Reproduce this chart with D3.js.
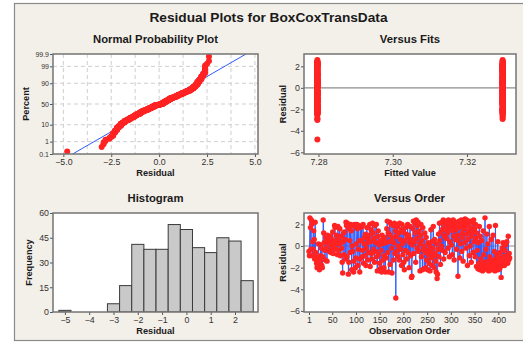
<!DOCTYPE html>
<html>
<head>
<meta charset="utf-8">
<script src="https://cdn.jsdelivr.net/npm/d3@7"></script>
<style>
  body { margin: 0; background: #fff; }
  svg text { font-family: "Liberation Sans", Arial, sans-serif; fill: #1a1a1a; }
  .tick text { font-size: 8.8px; fill: #333; }
  .tick line { stroke: #555; }
  .main-title { font-size: 13.7px; font-weight: bold; }
  .ptitle { font-size: 11.3px; font-weight: bold; }
  .alabel { font-size: 9.2px; font-weight: bold; }
</style>
</head>
<body>
<svg id="chart" width="523" height="345"></svg>
<script>
// residuals in observation order
const residuals = [
  -0.5, -0.9, 2.6, 1.7, -0.3, 2.4, 2.0, -0.9,
  0.4, -0.3, 1.4, 0.6, -1.2, 2.2, -0.6, -1.0,
  -1.6, -2.0, -1.8, -1.2, 0.2, -1.9, -2.2, -1.4, -0.9, 0.1, -0.2, -1.8, -2.0, -1.0,
  2.4, 1.2, 0.3, -0.4, -1.3, 0.8, 0.5, -0.2, -1.4, 1.0,
  0.5, 0.8, 0.2, -0.5, 0.9, 0.3, -0.6, 0.7, 0.1, -0.2, 1.3, -0.7, 0.4, 0.0, 1.9,
  1.7, 0.2, -0.3, 1.0, 0.6, -0.8, 1.8, 0.5, -0.4, 0.2, 1.6, -0.9, 0.3, 0.9, -0.2,
  -1.5, -2.5, 0.4, 1.2, -0.8, 1.3, 0.6, -1.2, 2.2, 1.9, -1.0, 2.1, 1.8, -2.6, -1.5, 1.6, 0.5, -0.6, 2.0, 1.4,
  -2.2, 0.0, -0.5, 1.9, -2.4, -1.4, 2.0, 1.8, -2.0, -1.1, 0.2, 2.0, 1.6, -1.8, -0.3, 1.9, 0.5, -2.4, -1.2, 1.7,
  0.5, 1.8, -1.0, -0.4, 2.0, -1.6, 0.2, 0.8, -0.9, 1.1, -1.8, -0.2, 1.7, 0.3, -1.3, 0.6, -0.6, 1.0, 2.0, -1.9,
  0.4, 1.5, -0.7, -1.2, 2.1, 1.2, -0.3, 0.7, -1.5, 1.9, -0.5, 0.3, 2.0, -1.0, -2.3, 0.9, 1.4, -0.8, 0.1, -1.6,
  -2.1, 0.5, -0.4, -2.4, 1.0, 0.2, -1.3, 0.6, -2.0, -0.9, 0.8, -2.4, 0.3, -1.1, 1.6, 2.3, -0.6, 1.2, -2.4, 0.4,
  2.2, -1.7, 1.0, 2.0, -0.2, -2.5, 0.7, 1.9, -1.3, 0.3, 2.1, -0.7, 1.4, -4.8, 0.9, -0.5, 1.8, 0.0, -1.0, 1.2,
  -1.3, 2.1, 0.6, -0.3, 1.5, -1.8, 2.0, 0.2, -0.8, 1.3, -1.5, -2.2, 0.5, 1.7, -0.4, 1.1, -1.2, 0.8, 2.0, -0.6,
  1.0, -2.0, 0.3, 1.8, -0.9, 0.6, -2.9, -2.8, 0.1, 1.6, 2.3, -0.7, 0.4, 2.1, 1.2, -1.5, 2.4, 0.7, -0.2, 1.9,
  2.2, -0.5, 1.4, 0.2, -2.3, 1.0, 2.0, -1.0, 0.5, -2.2, 1.7, -0.3, 0.0, -2.1, 1.2, -0.6, -2.0, 0.8, -1.3, -0.4,
  -2.2, 0.3, -0.8, -1.6, 0.0, -2.3, -0.5, 1.5, -1.1, 0.4, -1.8, -0.2, 1.8, -0.9, -2.0, 0.6, -0.7, -1.4, -2.4, 0.2,
  -3.0, -2.6, -0.3, 1.1, -1.0, 2.1, 0.5, -1.7, 1.3, 0.0, 2.2, -0.4, 1.6, 2.4, -1.2, 0.9, 2.0, -0.6, 1.5, 2.3,
  0.7, 2.2, 1.2, -0.2, 2.4, 1.8, -1.0, 0.4, 2.3, 1.6, 0.1, 2.0, -0.8, 1.4, 2.4, 0.9, -1.3, 1.9, 2.2, 0.6,
  1.5, -0.3, 2.1, 1.0, -2.8, 0.5, 2.3, 1.7, -1.1, 0.2, 1.9, 2.4, -0.5, 1.2, 0.8, -1.4, 2.2, 1.6, 0.3, 2.5,
  1.8, -0.2, 2.4, 1.1, -1.8, 0.6, 2.1, 1.4, -0.9, 2.3, 0.0, 1.7, -1.5, 0.9, 2.2, 1.3, -0.6, 2.4, 0.4, 1.6,
  -1.0, 2.0, 0.7, -1.9, 1.2, -0.4, -2.1, 0.3, -1.6, 1.8, -2.2, 0.9, -1.2, -2.0, 0.5, -1.7, -2.3, 1.4, -0.8, -2.1,
  -1.5, 2.6, -2.0, -0.3, -1.9, 1.1, -2.2, 0.2, -1.4, -2.3, 1.8, -1.0, -2.1, -1.7, 0.6, -2.2, -1.3, -1.9, 1.0, -2.0,
  -1.6, -0.5, -2.3, 1.9, -1.2, -2.0, -0.8, -1.8, 0.4, -2.2, -1.5, -1.1, -2.1, -0.6, -1.9, -2.9, -1.3, -0.2, -1.7, 0.3,
  -1.0, 0.2, -1.8, -0.4, 0.1, -1.5, -0.9, 0.4, -1.2, -1.6, 0.9, -1.3, -0.7, -1.1
];

// which fitted value each observation has (a = 7.28 group, b = 7.33 group)
const fitGroups =
  "abbabaabbaababbaabab baabbabaabbabaababba abababbaabbaabbabaab bbaababbaabababbaaba " +
  "aabbababbaababaabbab babaabbaabababbaabba abbaababbabaabbabaab baababbaabbabababaab " +
  "abbabaababbaabbaabab aabababbaabbabaababb babbaababaabbaababab abaabbabababbaabbaba " +
  "bbabaababbaabaababba ababbaabbaababbabaab baabababbaabbaababab abbaabababbaabababba " +
  "babaabbaabbabaabbaab aabbaababbababaabbab abababbaabbaababbaba bababaabbaabbabababa " +
  "abbaababbaabbababaab baab";
const fitLevels = { a: 7.2797, b: 7.3296 };

// histogram bins (centres) and frequencies
const histCenters = [-5, -4.5, -4, -3.5, -3, -2.5, -2, -1.5, -1, -0.5, 0, 0.5, 1, 1.5, 2, 2.5];
const histCounts  = [1, 0, 0, 0, 5, 16, 41, 38, 38, 53, 50, 39, 36, 45, 43, 19];

const probTicks = [0.1, 1, 10, 50, 90, 99, 99.9];
const probXTicks = [-5, -2.5, 0, 2.5, 5];
const fitXTicks = [7.28, 7.30, 7.32];
const residTicks = [2, 0, -2, -4, -6];
const histXTicks = [-5, -4, -3, -2, -1, 0, 1, 2];
const histYTicks = [0, 15, 30, 45, 60];
const orderTicks = [1, 50, 100, 150, 200, 250, 300, 350, 400];

// inverse normal cdf (Acklam)
function probit(p) {
  const a = [-39.6968302866538, 220.946098424521, -275.928510446969, 138.357751867269, -30.6647980661472, 2.50662827745924];
  const b = [-54.4760987982241, 161.585836858041, -155.698979859887, 66.8013118877197, -13.2806815528857];
  const c = [-0.00778489400243029, -0.322396458041136, -2.40075827716184, -2.54973253934373, 4.37466414146497, 2.93816398269878];
  const d = [0.00778469570904146, 0.32246712907004, 2.445134137143, 3.75440866190742];
  const pl = 0.02425;
  let q, r;
  if (p < pl) {
    q = Math.sqrt(-2 * Math.log(p));
    return (((((c[0]*q+c[1])*q+c[2])*q+c[3])*q+c[4])*q+c[5]) / ((((d[0]*q+d[1])*q+d[2])*q+d[3])*q+1);
  }
  if (p > 1 - pl) {
    q = Math.sqrt(-2 * Math.log(1 - p));
    return -(((((c[0]*q+c[1])*q+c[2])*q+c[3])*q+c[4])*q+c[5]) / ((((d[0]*q+d[1])*q+d[2])*q+d[3])*q+1);
  }
  q = p - 0.5; r = q * q;
  return (((((a[0]*r+a[1])*r+a[2])*r+a[3])*r+a[4])*r+a[5])*q / (((((b[0]*r+b[1])*r+b[2])*r+b[3])*r+b[4])*r+1);
}

const RED = "#ff2323", BLUE = "#2f5bff", FRAME = "#747474";
const svg = d3.select("#chart");

// outer background
svg.append("rect").attr("x", 14.5).attr("y", 3.5).attr("width", 520).attr("height", 337)
  .attr("fill", "#f3efe9").attr("stroke", "#8a8a8a").attr("stroke-width", 1.2);

svg.append("text").attr("class", "main-title").attr("x", 268.5).attr("y", 22)
  .attr("text-anchor", "middle").text("Residual Plots for BoxCoxTransData");

let clipId = 0;
function panel(box, title, xLabel, yLabel, yLabelX) {
  const g = svg.append("g");
  g.append("rect").attr("x", box.x0).attr("y", box.y0)
    .attr("width", box.x1 - box.x0).attr("height", box.y1 - box.y0).attr("fill", "#fff");
  const id = "clip" + (clipId++);
  svg.append("clipPath").attr("id", id).append("rect")
    .attr("x", box.x0).attr("y", box.y0).attr("width", box.x1 - box.x0).attr("height", box.y1 - box.y0);
  const cx = (box.x0 + box.x1) / 2, cy = (box.y0 + box.y1) / 2;
  svg.append("text").attr("class", "ptitle").attr("x", cx).attr("y", box.y0 - 11)
    .attr("text-anchor", "middle").text(title);
  svg.append("text").attr("class", "alabel").attr("x", cx).attr("y", box.y1 + 22)
    .attr("text-anchor", "middle").text(xLabel);
  svg.append("text").attr("class", "alabel")
    .attr("transform", `translate(${yLabelX},${cy}) rotate(-90)`)
    .attr("text-anchor", "middle").text(yLabel);
  const inner = g.append("g").attr("clip-path", `url(#${id})`);
  return { g, inner, box };
}

function frame(p) {
  p.g.append("rect").attr("x", p.box.x0).attr("y", p.box.y0)
    .attr("width", p.box.x1 - p.box.x0).attr("height", p.box.y1 - p.box.y0)
    .attr("fill", "none").attr("stroke", FRAME).attr("stroke-width", 1.5);
}

function axes(p, xAxis, yAxis) {
  p.g.append("g").attr("transform", `translate(0,${p.box.y1})`).call(xAxis)
    .call(s => s.select(".domain").remove());
  return p.g.append("g").attr("transform", `translate(${p.box.x0},0)`).call(yAxis)
    .call(s => s.select(".domain").remove());
}

// ---------- Normal probability plot ----------
const p1 = panel({ x0: 53, y0: 54, x1: 258, y1: 154 }, "Normal Probability Plot", "Residual", "Percent", 29);
const n = residuals.length;
const sorted = residuals.slice().sort((a, b) => a - b);
const mean = d3.mean(residuals), sd = d3.deviation(residuals);
const xP = d3.scaleLinear().domain([-5.54, 5.16]).range([53, 258]);
const yP = d3.scaleLinear().domain([probit(0.001), probit(0.999)]).range([154, 54]);

const grid = p1.inner.append("g").attr("stroke", "#cfcfcf").attr("stroke-dasharray", "4,3").attr("stroke-width", 1);
grid.selectAll("line.v").data(d3.range(-5, 5.01, 1.25)).join("line")
  .attr("x1", d => xP(d)).attr("x2", d => xP(d)).attr("y1", 54).attr("y2", 154);
grid.selectAll("line.h").data([1, 10, 50, 90, 99]).join("line")
  .attr("y1", d => yP(probit(d / 100))).attr("y2", d => yP(probit(d / 100))).attr("x1", 53).attr("x2", 258);

const zLo = probit(0.001), zHi = probit(0.999);
p1.inner.append("line")
  .attr("x1", xP(mean + sd * zLo)).attr("y1", yP(zLo))
  .attr("x2", xP(mean + sd * zHi)).attr("y2", yP(zHi))
  .attr("stroke", BLUE).attr("stroke-width", 1);

p1.inner.selectAll("circle").data(sorted).join("circle")
  .attr("cx", d => xP(d))
  .attr("cy", (d, i) => yP(probit((i + 1 - 0.3) / (n + 0.4))))
  .attr("r", 3).attr("fill", RED);

const pY = axes(p1,
  d3.axisBottom(xP).tickValues(probXTicks).tickFormat(d3.format(".1f")).tickSize(3).tickPadding(2),
  d3.axisLeft(yP).tickValues(probTicks.map(t => probit(t / 100)))
    .tickFormat((d, i) => probTicks[i]).tickSize(3).tickPadding(1));
pY.selectAll(".tick text").style("font-size", "7px");
frame(p1);

// ---------- Versus fits ----------
const p2 = panel({ x0: 304, y0: 54, x1: 516, y1: 154 }, "Versus Fits", "Fitted Value", "Residual", 286);
const codes = fitGroups.replace(/\s/g, "");
const xF = d3.scaleLinear().domain([7.2761, 7.3332]).range([304, 516]);
const yF = d3.scaleLinear().domain([-6.16, 3.15]).range([154, 54]);
p2.inner.append("line").attr("x1", 304).attr("x2", 516).attr("y1", yF(0)).attr("y2", yF(0))
  .attr("stroke", "#8c8c8c").attr("stroke-width", 1.2);
p2.inner.selectAll("circle").data(residuals).join("circle")
  .attr("cx", (d, i) => xF(fitLevels[codes[i] || "a"]))
  .attr("cy", d => yF(d)).attr("r", 3).attr("fill", RED);
axes(p2,
  d3.axisBottom(xF).tickValues(fitXTicks).tickFormat(d3.format(".2f")).tickSize(3).tickPadding(2),
  d3.axisLeft(yF).tickValues(residTicks).tickSize(3).tickPadding(1));
frame(p2);

// ---------- Histogram ----------
const p3 = panel({ x0: 53, y0: 213, x1: 258, y1: 312 }, "Histogram", "Residual", "Frequency", 31.5);
const xH = d3.scaleLinear().domain([-5.49, 2.946]).range([53, 258]);
const yH = d3.scaleLinear().domain([0, 60]).range([312, 213]);
p3.inner.selectAll("rect.bar").data(histCenters).join("rect")
  .attr("x", d => xH(d - 0.25)).attr("width", d => xH(d + 0.25) - xH(d - 0.25))
  .attr("y", (d, i) => yH(histCounts[i])).attr("height", (d, i) => yH(0) - yH(histCounts[i]))
  .attr("fill", "#c9c9c9").attr("stroke", "#3a3a3a").attr("stroke-width", 1);
axes(p3,
  d3.axisBottom(xH).tickValues(histXTicks).tickSize(3).tickPadding(2),
  d3.axisLeft(yH).tickValues(histYTicks).tickSize(3).tickPadding(1));
frame(p3);

// ---------- Versus order ----------
const p4 = panel({ x0: 304, y0: 213, x1: 515, y1: 312 }, "Versus Order", "Observation Order", "Residual", 286);
const xO = d3.scaleLinear().domain([-9.5, 435.2]).range([304, 515]);
const yO = d3.scaleLinear().domain([-6.1, 3.05]).range([312, 213]);
p4.inner.append("line").attr("x1", 304).attr("x2", 515).attr("y1", yO(0)).attr("y2", yO(0))
  .attr("stroke", "#8c8c8c").attr("stroke-width", 1.2);
p4.inner.append("path").datum(residuals)
  .attr("d", d3.line().x((d, i) => xO(i + 1)).y(d => yO(d)))
  .attr("fill", "none").attr("stroke", BLUE).attr("stroke-width", 1);
p4.inner.selectAll("circle").data(residuals).join("circle")
  .attr("cx", (d, i) => xO(i + 1)).attr("cy", d => yO(d)).attr("r", 2.7).attr("fill", RED);
axes(p4,
  d3.axisBottom(xO).tickValues(orderTicks).tickSize(3).tickPadding(2),
  d3.axisLeft(yO).tickValues(residTicks).tickSize(3).tickPadding(1));
frame(p4);
</script>
</body>
</html>
